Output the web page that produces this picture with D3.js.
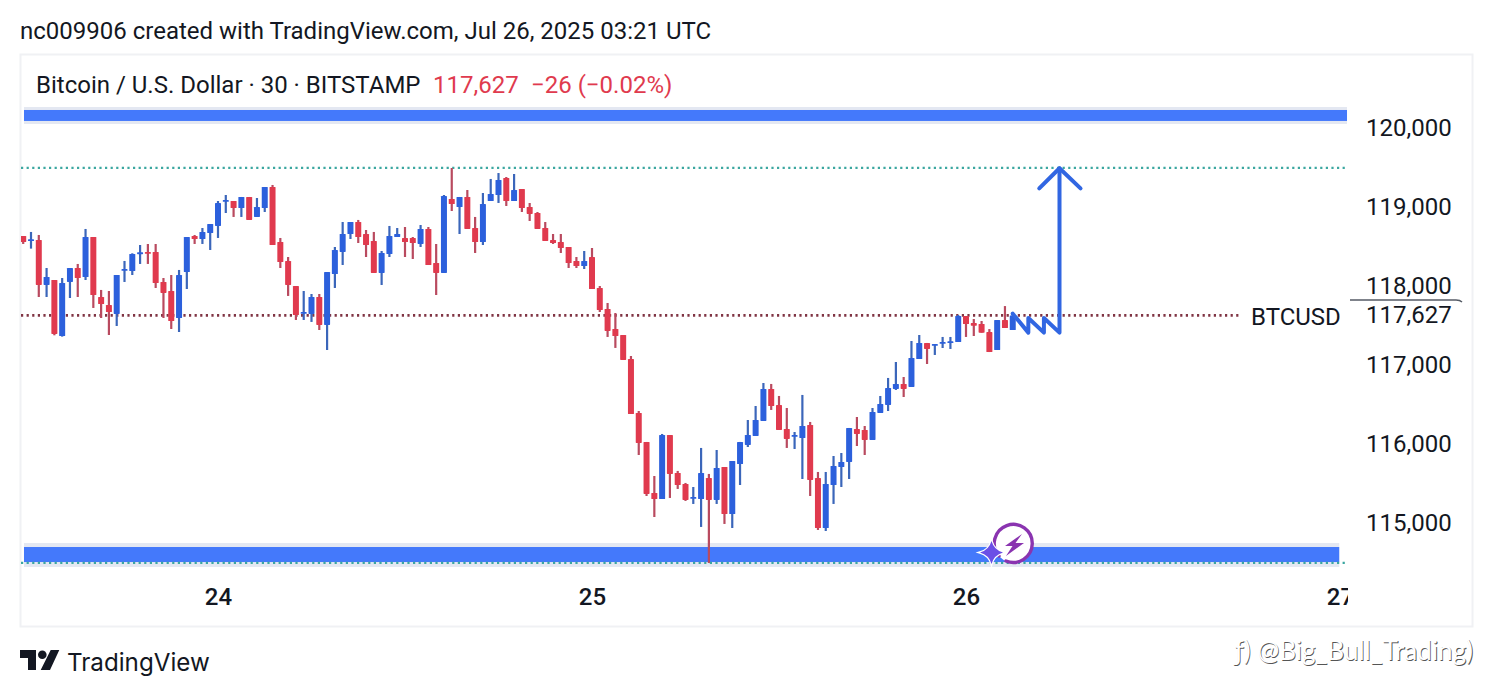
<!DOCTYPE html>
<html><head><meta charset="utf-8">
<script src="https://cdn.jsdelivr.net/npm/d3@7/dist/d3.min.js"></script>
<style>html,body{margin:0;padding:0;background:#fff;overflow:hidden}svg{display:block}text{font-family:Roboto,sans-serif;fill:#131722}</style>
</head><body><svg id="c" width="1492" height="696"></svg>
<script>
const firstSlot=-25; // half-hour slots counted from 24 Jul 00:00
const opens=[118633,118578,118582,118013,118076,117367,118051,118228,118114,118620,117861,117760,117646,118199,118190,118409,118431,118431,118051,117937,117595,118177,118633,118595,118671,118760,119072,119076,118987,119127,118874,118987,119253,118557,118317,118000,117654,117646,117861,117507,118152,118431,118658,118810,118658,118570,118165,118405,118620,118608,118608,118532,118722,118291,118165,119101,119000,119127,118734,118557,119076,119152,119367,119076,119228,119000,118924,118734,118582,118557,118494,118317,118253,118367,117975,117709,117456,117380,117076,116393,116026,115380,115304,116114,115633,115494,115313,115304,115570,115292,115709,115114,115747,115988,116102,116292,116697,116494,116190,116097,116076,116241,115570,114937,115481,115709,115773,116190,116178,116051,116393,116494,116697,116760,116722,117076,117279,117253,117275,117283,117291,117620,117531,117519,117417,117190,117569,117443];
const highs=[118633,118684,118646,118228,118076,118101,118228,118279,118722,118620,117950,117937,118139,118317,118414,118519,118532,118532,118101,118139,118203,118620,118646,118734,118785,119076,119152,119076,119127,119127,119114,119253,119279,118608,118367,118000,117937,117899,117899,118177,118494,118810,118810,118836,118709,118684,118443,118760,118734,118747,118620,118772,118747,118532,119152,119494,119127,119215,118874,119177,119355,119430,119380,119418,119228,119051,118937,118810,118658,118658,118494,118367,118443,118481,118000,117785,117658,117380,117114,116418,116026,115595,116127,116114,115659,115507,115456,115950,115621,115924,115709,115785,116026,116304,116481,116772,116760,116608,116456,116152,116621,116279,115646,115646,115848,115886,116203,116342,116228,116456,116608,116836,117038,116848,117304,117380,117279,117266,117355,117355,117633,117620,117582,117557,117455,117569,117746,117671];
const lows=[118532,118473,117861,117861,117376,117359,117848,117861,118076,117722,117595,117380,117494,118051,118139,118279,118279,117975,117595,117456,117418,117962,118532,118532,118456,118608,118924,118874,118874,118836,118874,118937,118519,118228,117874,117570,117570,117545,117443,117190,117975,118266,118595,118544,118367,118165,118013,118367,118620,118367,118342,118494,118266,117886,118165,118949,118658,118722,118418,118519,119076,119051,119013,119076,118937,118823,118722,118570,118532,118418,118228,118228,118215,117962,117671,117355,117216,117064,116380,115861,115342,115076,115304,115317,115431,115279,115241,114950,114494,115241,114988,114937,115481,115962,116102,116292,116431,116178,115950,115937,115557,115342,114912,114899,115241,115456,115557,115975,115861,116051,116393,116418,116684,116595,116722,117076,117013,117127,117215,117203,117291,117355,117367,117409,117164,117190,117468,117443];
const closes=[118557,118591,118013,118114,117393,118038,118228,118101,118620,117886,117772,117671,118139,118215,118405,118426,118414,118038,117912,117557,118139,118620,118595,118684,118785,119051,119089,118987,119127,118836,119000,119253,118519,118304,118013,117633,117671,117861,117507,118177,118456,118658,118810,118620,118519,118165,118418,118633,118658,118557,118544,118722,118266,118165,119139,119038,119127,118722,118557,119038,119165,119342,119076,119215,118987,118912,118722,118570,118544,118481,118291,118253,118317,117962,117696,117431,117367,117064,116380,116013,115368,115304,116114,115621,115481,115292,115330,115634,115292,115697,115114,115785,116026,116114,116304,116697,116481,116178,116064,116114,116228,115545,114937,115494,115722,115773,116203,116127,116051,116405,116507,116709,116760,116697,117089,117279,117203,117266,117291,117300,117620,117519,117498,117409,117164,117569,117468,117627];
const yTicks=[115000,116000,117000,118000,119000,120000];
const xTicks=[0,48,96,144];
const xLabels=["24","25","26","27"];
const lastPrice=117627, sessionHigh=119494, sessionLow=114494;
const upperBand=[120228,120089], lowerBand=[114696,114506];
const upperHalo=[120266,120051], lowerHalo=[114747,114443];
const bandStart=-24.9, upperBandEnd=144.9, lowerBandEnd=143.9;
const pathSlots=[102,104,104,106,106,108,108];
const pathPrices=[117650,117410,117595,117410,117595,117410,119490];
const headSlots=[105.4,108,110.7];
const headPrices=[119236,119490,119236];

const BLUE="#2c60dc",RED="#e03a4e",WBLUE="#3b66ba",WRED="#b94a5f",BAND="#4479fb",HALO="#e4e8f2";
const svg=d3.select("#c");
const x=d3.scaleLinear().domain([0,144]).range([218,1340]);
const y=d3.scaleLinear().domain([115000,120000]).range([523,128]);

svg.append("rect").attr("x",20.5).attr("y",54.5).attr("width",1452).attr("height",572).attr("fill","#fff").attr("stroke","#f0f1f4").attr("stroke-width",2);
const defs=svg.append("defs");
defs.append("clipPath").attr("id","plot").append("rect").attr("x",21).attr("y",55).attr("width",1327).attr("height",570);

// bands
function band(p,end,col){svg.append("rect").attr("x",x(bandStart)).attr("width",x(end)-x(bandStart)).attr("y",y(p[0])).attr("height",y(p[1])-y(p[0])).attr("fill",col);}
band(upperHalo,upperBandEnd,HALO);band(upperBand,upperBandEnd,BAND);
band(lowerHalo,lowerBandEnd,HALO);band(lowerBand,lowerBandEnd,BAND);

// dotted lines
function dotted(p,x2,col,w){svg.append("line").attr("x1",21).attr("x2",x2).attr("y1",y(p)).attr("y2",y(p)).attr("stroke",col).attr("stroke-width",w).attr("stroke-dasharray","2.2 3.4");}
dotted(sessionHigh,1348,"#3ba7a0",2.2);dotted(sessionLow,1348,"#3ba7a0",2.2);
dotted(lastPrice,1240,"#803544",2.8);

// candles
const candles=opens.map((o,i)=>({s:firstSlot+i,o,h:highs[i],l:lows[i],c:closes[i]}));
const g=svg.append("g").attr("clip-path","url(#plot)");
g.selectAll("line.w").data(candles).join("line").attr("class","w")
 .attr("x1",d=>x(d.s)).attr("x2",d=>x(d.s)).attr("y1",d=>y(d.h)).attr("y2",d=>y(d.l))
 .attr("stroke",d=>d.c>=d.o?WBLUE:WRED).attr("stroke-width",2.2);
g.selectAll("rect.b").data(candles).join("rect").attr("class","b")
 .attr("x",d=>x(d.s)-3).attr("width",6)
 .attr("y",d=>y(Math.max(d.o,d.c))).attr("height",d=>Math.max(1.8,Math.abs(y(d.o)-y(d.c))))
 .attr("rx",0.6).attr("fill",d=>d.c>=d.o?BLUE:RED);

// arrow annotation
const lineGen=d3.line().x(d=>x(d[0])).y(d=>y(d[1]));
const ARROW="#3166e2";
svg.append("path").attr("d",lineGen(pathSlots.map((s,i)=>[s,pathPrices[i]]))).attr("fill","none").attr("stroke",ARROW).attr("stroke-width",4).attr("stroke-linecap","round").attr("stroke-linejoin","round");
svg.append("path").attr("d",lineGen(headSlots.map((s,i)=>[s,headPrices[i]]))).attr("fill","none").attr("stroke",ARROW).attr("stroke-width",4).attr("stroke-linecap","round").attr("stroke-linejoin","round");

// axes
const ax=svg.append("g").attr("transform","translate(1366,0)").call(d3.axisRight(y).tickValues(yTicks).tickSize(0).tickPadding(0).tickFormat(d3.format(",")));
ax.select(".domain").remove();
ax.selectAll("text").attr("font-size",24).style("font-family","Roboto").attr("fill","#131722");
const bx=svg.append("g").attr("clip-path","url(#plot)").append("g").attr("transform","translate(0,591)").call(d3.axisBottom(x).tickValues(xTicks).tickSize(0).tickPadding(0).tickFormat((d,i)=>xLabels[i]));
bx.select(".domain").remove();
bx.selectAll("text").attr("font-size",24).attr("font-weight",500).attr("dy",0).attr("dominant-baseline","middle").attr("y",8).style("font-family","Roboto");

// last price label
svg.append("path").attr("d","M1350 300H1456q4 0 6 2").attr("fill","none").attr("stroke","#555b66").attr("stroke-width",1.4);
svg.append("text").attr("x",1366).attr("y",y(lastPrice)).attr("dy","0.32em").attr("font-size",24).text(d3.format(",")(lastPrice));
svg.append("text").attr("x",1251).attr("y",y(lastPrice)+2).attr("dy","0.32em").attr("font-size",24).text("BTCUSD");

// header
svg.append("text").attr("x",20).attr("y",39).attr("font-size",24).text("nc009906 created with TradingView.com, Jul 26, 2025 03:21 UTC");
svg.append("text").attr("x",36).attr("y",93).attr("font-size",24).text("Bitcoin / U.S. Dollar · 30 · BITSTAMP");
svg.append("text").attr("x",433).attr("y",93).attr("font-size",24).style("fill",RED).text("117,627");
svg.append("text").attr("x",531).attr("y",93).attr("font-size",24).style("fill",RED).text("−26 (−0.02%)");

// badge icon
const ic=svg.append("g");
ic.append("circle").attr("cx",1014).attr("cy",544).attr("r",19).attr("fill","#fff").attr("stroke","none");
ic.append("path").attr("d","M999 556A19 19 0 1 1 1006 561").attr("fill","none").attr("stroke","#8a34b0").attr("stroke-width",3.4).attr("stroke-linecap","round");
ic.append("path").attr("d","M1022 534L1005 546H1012.5L1006 556L1024 543H1015.5Z").attr("fill","#8a34b0");
ic.append("path").attr("d","M991.5 541Q994 550 1003 552.5Q994 555 991.5 564Q989 555 980 552.5Q989 550 991.5 541Z").attr("fill","#6b4fe6").attr("stroke","#fff").attr("stroke-width",2.4).attr("paint-order","stroke");

// TradingView logo
svg.append("path").attr("d","M20 650H36V670H28V658H20Z M50.7 650H59.3L50 670H40.7Z").attr("fill","#131722");
svg.append("circle").attr("cx",42.3).attr("cy",654.7).attr("r",4.3).attr("fill","#131722");
svg.append("text").attr("x",67).attr("y",671).attr("font-size",24.2).style("font-family","Inter").text("TradingView");

// watermark
const wm="ƒ) @Big_Bull_Trading)";
svg.append("text").attr("x",1235.8).attr("y",660.8).attr("font-size",26).style("font-family","Lato").style("fill","#555").text(wm);
svg.append("text").attr("x",1235).attr("y",660).attr("font-size",26).style("font-family","Lato").style("fill","#fff").text(wm);
</script></body></html>
